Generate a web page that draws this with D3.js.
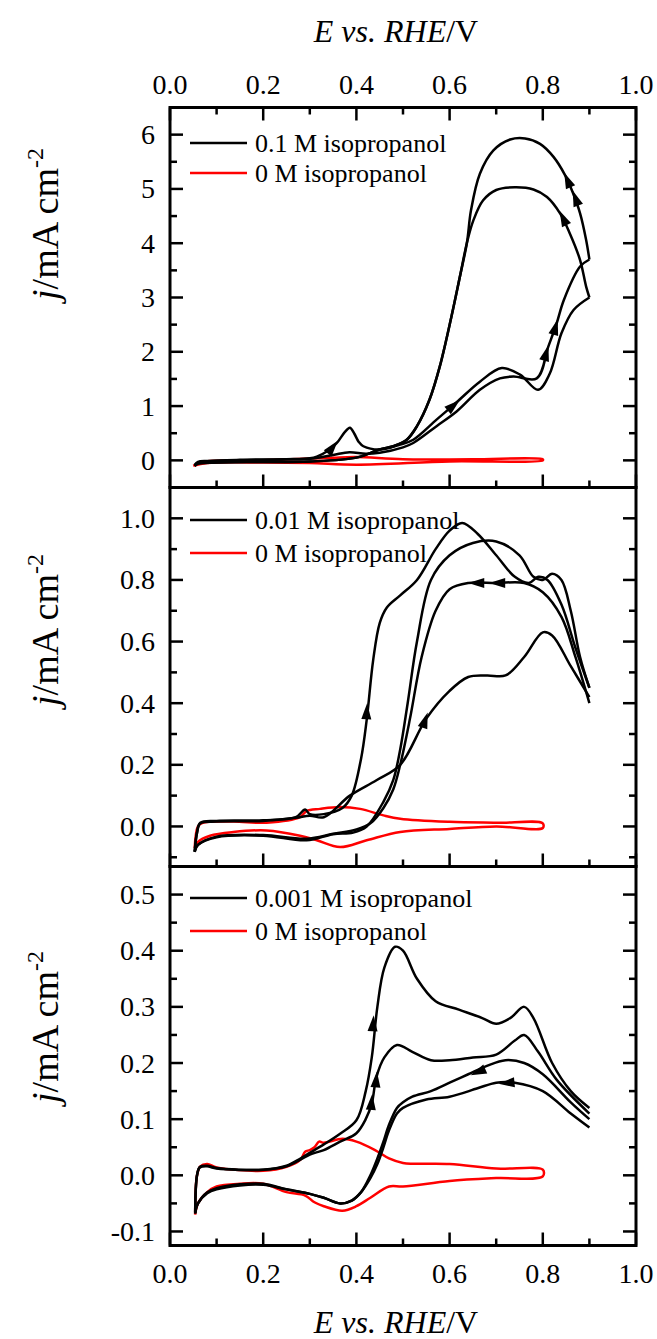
<!DOCTYPE html>
<html><head><meta charset="utf-8">
<script src="https://cdn.jsdelivr.net/npm/d3@7/dist/d3.min.js"></script>
<style>
html,body{margin:0;padding:0;background:#fff;}
svg{display:block;font-family:"Liberation Serif","Times New Roman",serif;}
</style></head>
<body>
<svg id="chart" width="657" height="1339"></svg>
<script>
// ---------- DATA ----------
const xTicks = [0.0, 0.2, 0.4, 0.6, 0.8, 1.0];
const xMinor = [0.1, 0.3, 0.5, 0.7, 0.9];

// Panel 1: 0.1 M isopropanol
const p1Ticks = [0, 1, 2, 3, 4, 5, 6];
const p1Minor = [0.5, 1.5, 2.5, 3.5, 4.5, 5.5];
const p1FwdA = [[0.053,-0.1],[0.06,-0.04],[0.08,-0.02],[0.15,0.0],[0.25,0.02],[0.3,0.04],[0.315,0.07],[0.34,0.18],[0.358,0.32],[0.375,0.52],[0.386,0.6],[0.395,0.5],[0.405,0.34],[0.415,0.26],[0.45,0.2],[0.494,0.29],[0.522,0.38],[0.572,0.75],[0.615,1.07],[0.665,1.45],[0.712,1.70],[0.751,1.58],[0.79,1.30],[0.815,1.6],[0.84,2.34],[0.866,2.77],[0.9,3.0]];
const p1FwdB = [[0.053,-0.08],[0.06,-0.03],[0.08,-0.01],[0.15,0.01],[0.25,0.02],[0.3,0.03],[0.35,0.1],[0.385,0.15],[0.42,0.12],[0.45,0.14],[0.5,0.24],[0.522,0.32],[0.572,0.63],[0.615,0.9],[0.665,1.30],[0.708,1.51],[0.737,1.545],[0.787,1.51],[0.812,2.10],[0.83,2.53],[0.845,2.95],[0.88,3.57],[0.9,3.70]];
const p1RevA = [[0.9,3.0],[0.893,3.2],[0.88,3.69],[0.858,4.18],[0.837,4.55],[0.809,4.85],[0.78,4.99],[0.74,5.03],[0.70,4.98],[0.672,4.79],[0.651,4.42],[0.637,4.0],[0.622,3.38],[0.604,2.65],[0.579,1.73],[0.557,1.12],[0.53,0.63],[0.508,0.38],[0.479,0.26],[0.45,0.2],[0.4,0.05],[0.3,-0.02],[0.2,-0.03],[0.1,-0.04],[0.06,-0.06],[0.053,-0.1]];
const p1RevB = [[0.9,3.7],[0.893,4.06],[0.88,4.55],[0.865,4.92],[0.848,5.25],[0.823,5.59],[0.794,5.83],[0.762,5.93],[0.73,5.91],[0.694,5.71],[0.665,5.28],[0.646,4.61],[0.637,4.0],[0.622,3.38],[0.604,2.65],[0.579,1.73],[0.557,1.12],[0.53,0.63],[0.508,0.38],[0.479,0.26],[0.45,0.2],[0.4,0.05],[0.3,-0.02],[0.2,-0.03],[0.1,-0.04],[0.06,-0.06],[0.053,-0.1]];
const p1Blank = [[0.05,-0.1],[0.07,-0.03],[0.2,0.0],[0.35,0.05],[0.4,0.06],[0.5,0.02],[0.65,0.02],[0.8,0.02],[0.8,0.0],[0.6,-0.02],[0.4,-0.08],[0.3,-0.05],[0.2,-0.04],[0.08,-0.05],[0.05,-0.1]];
const p1Arrows = [[0.345,0.2,0.36,0.36],[0.6,0.95,0.622,1.11],[0.8,1.75,0.812,2.12],[0.822,2.3,0.832,2.6],[0.85,4.35,0.836,4.6],[0.875,4.72,0.864,4.97],[0.858,5.06,0.846,5.3]];

// Panel 2: 0.01 M isopropanol
const p2Ticks = [0.0, 0.2, 0.4, 0.6, 0.8, 1.0];
const p2Minor = [-0.1, 0.1, 0.3, 0.5, 0.7, 0.9];
const p2Fwd1 = [[0.053,-0.083],[0.058,-0.02],[0.065,0.012],[0.1,0.018],[0.2,0.02],[0.27,0.03],[0.29,0.055],[0.3,0.04],[0.33,0.04],[0.37,0.06],[0.39,0.1],[0.41,0.22],[0.422,0.345],[0.436,0.54],[0.45,0.66],[0.465,0.71],[0.494,0.75],[0.53,0.8],[0.57,0.9],[0.6,0.96],[0.627,0.985],[0.66,0.95],[0.7,0.88],[0.74,0.81],[0.77,0.79],[0.79,0.81],[0.81,0.8],[0.84,0.72],[0.87,0.58],[0.9,0.45]];
const p2Fwd2 = [[0.053,-0.08],[0.058,-0.02],[0.065,0.01],[0.1,0.016],[0.2,0.018],[0.27,0.028],[0.3,0.035],[0.33,0.03],[0.386,0.1],[0.443,0.15],[0.494,0.2],[0.55,0.35],[0.6,0.44],[0.64,0.485],[0.68,0.49],[0.72,0.49],[0.76,0.55],[0.8,0.63],[0.82,0.62],[0.86,0.52],[0.9,0.42]];
const p2Rev1 = [[0.9,0.45],[0.88,0.55],[0.86,0.7],[0.84,0.8],[0.82,0.82],[0.8,0.8],[0.78,0.81],[0.75,0.88],[0.7,0.925],[0.65,0.92],[0.6,0.88],[0.56,0.8],[0.53,0.6],[0.51,0.4],[0.494,0.25],[0.479,0.15],[0.458,0.08],[0.422,0.0],[0.393,-0.02],[0.35,-0.025],[0.293,-0.045],[0.2,-0.03],[0.1,-0.035],[0.06,-0.06],[0.053,-0.083]];
const p2Rev2 = [[0.9,0.40],[0.87,0.55],[0.84,0.68],[0.8,0.76],[0.76,0.79],[0.7,0.79],[0.64,0.79],[0.6,0.77],[0.57,0.7],[0.54,0.55],[0.515,0.35],[0.494,0.2],[0.479,0.12],[0.458,0.06],[0.43,0.01],[0.4,-0.01],[0.35,-0.024],[0.293,-0.04],[0.2,-0.028],[0.1,-0.033],[0.06,-0.06],[0.053,-0.08]];
const p2Blank = [[0.053,-0.07],[0.06,0.0],[0.07,0.012],[0.136,0.016],[0.207,0.012],[0.279,0.03],[0.293,0.05],[0.322,0.057],[0.365,0.063],[0.408,0.057],[0.458,0.036],[0.494,0.025],[0.6,0.015],[0.7,0.012],[0.8,0.01],[0.8,-0.005],[0.7,0.0],[0.6,-0.008],[0.494,-0.018],[0.422,-0.045],[0.365,-0.067],[0.315,-0.045],[0.279,-0.03],[0.207,-0.013],[0.136,-0.018],[0.086,-0.03],[0.06,-0.05],[0.053,-0.07]];
const p2Arrows = [[0.418,0.25,0.423,0.4],[0.535,0.29,0.553,0.37],[0.665,0.79,0.64,0.79],[0.71,0.79,0.685,0.79]];

// Panel 3: 0.001 M isopropanol
const p3Ticks = [-0.1, 0.0, 0.1, 0.2, 0.3, 0.4, 0.5];
const p3Minor = [-0.05, 0.05, 0.15, 0.25, 0.35, 0.45];
const p3Fwd1 = [[0.054,-0.068],[0.058,0.0],[0.064,0.015],[0.08,0.017],[0.1,0.013],[0.2,0.01],[0.25,0.017],[0.28,0.03],[0.3,0.04],[0.33,0.055],[0.365,0.074],[0.40,0.098],[0.42,0.15],[0.433,0.21],[0.445,0.3],[0.46,0.37],[0.483,0.407],[0.5,0.4],[0.53,0.35],[0.57,0.31],[0.62,0.295],[0.67,0.28],[0.7,0.27],[0.73,0.28],[0.76,0.3],[0.78,0.28],[0.82,0.2],[0.86,0.15],[0.9,0.12]];
const p3Fwd2 = [[0.054,-0.066],[0.058,0.0],[0.064,0.014],[0.08,0.016],[0.1,0.012],[0.2,0.01],[0.25,0.016],[0.28,0.028],[0.3,0.037],[0.33,0.045],[0.365,0.06],[0.4,0.075],[0.42,0.1],[0.433,0.128],[0.443,0.175],[0.46,0.21],[0.487,0.232],[0.52,0.22],[0.56,0.205],[0.6,0.205],[0.65,0.21],[0.7,0.215],[0.74,0.24],[0.76,0.25],[0.79,0.22],[0.83,0.17],[0.9,0.11]];
const p3Rev1 = [[0.9,0.1],[0.86,0.13],[0.8,0.18],[0.76,0.2],[0.72,0.205],[0.68,0.195],[0.64,0.18],[0.6,0.165],[0.56,0.15],[0.52,0.14],[0.5,0.13],[0.487,0.12],[0.47,0.09],[0.458,0.06],[0.445,0.03],[0.43,0.0],[0.41,-0.03],[0.39,-0.045],[0.365,-0.05],[0.33,-0.04],[0.3,-0.033],[0.25,-0.025],[0.2,-0.015],[0.15,-0.016],[0.1,-0.023],[0.08,-0.03],[0.06,-0.05],[0.054,-0.068]];
const p3Rev2 = [[0.9,0.085],[0.86,0.11],[0.8,0.15],[0.74,0.165],[0.7,0.165],[0.66,0.155],[0.6,0.14],[0.55,0.135],[0.5,0.12],[0.487,0.11],[0.47,0.08],[0.458,0.05],[0.445,0.02],[0.43,-0.005],[0.41,-0.03],[0.39,-0.045],[0.365,-0.05],[0.33,-0.04],[0.3,-0.033],[0.25,-0.025],[0.2,-0.017],[0.15,-0.018],[0.1,-0.025],[0.08,-0.032],[0.06,-0.05],[0.054,-0.066]];
const p3Blank = [[0.054,-0.07],[0.058,0.0],[0.065,0.016],[0.08,0.02],[0.1,0.014],[0.2,0.008],[0.25,0.015],[0.28,0.028],[0.29,0.042],[0.3,0.045],[0.31,0.05],[0.32,0.06],[0.33,0.058],[0.37,0.065],[0.4,0.06],[0.44,0.045],[0.47,0.03],[0.5,0.022],[0.6,0.02],[0.7,0.012],[0.8,0.01],[0.8,-0.002],[0.7,-0.005],[0.6,-0.01],[0.5,-0.02],[0.47,-0.02],[0.43,-0.04],[0.4,-0.055],[0.37,-0.063],[0.33,-0.055],[0.31,-0.048],[0.29,-0.036],[0.25,-0.03],[0.2,-0.015],[0.15,-0.015],[0.1,-0.02],[0.08,-0.03],[0.06,-0.05],[0.054,-0.07]];
const p3Arrows = [[0.43,0.2,0.437,0.285],[0.438,0.13,0.444,0.185],[0.428,0.09,0.434,0.145],[0.67,0.187,0.645,0.178],[0.73,0.165,0.705,0.163]];

const legendLabels = ["0.1 M isopropanol", "0.01 M isopropanol", "0.001 M isopropanol"];
const blankLabel = "0 M isopropanol";

// ---------- LAYOUT ----------
const X0 = 170, X1 = 636;
const panelEdges = [107.5, 487.5, 866.5, 1245.5];
const yLabelCenters = [224, 630, 1027];
const legendY = [[143, 173], [520, 553], [898, 931]];

const panels = [
  {domain:[-0.5, 6.5], ticks:p1Ticks, minor:p1Minor, fmt:d3.format("d"), black:[p1FwdA,p1FwdB,p1RevA,p1RevB], red:[p1Blank], arrows:p1Arrows},
  {domain:[-0.13, 1.1], ticks:p2Ticks, minor:p2Minor, fmt:d3.format(".1f"), black:[p2Fwd1,p2Fwd2,p2Rev1,p2Rev2], red:[p2Blank], arrows:p2Arrows},
  {domain:[-0.125, 0.55], ticks:p3Ticks, minor:p3Minor, fmt:(d)=>d3.format(".1f")(d).replace("−","-"), black:[p3Fwd1,p3Fwd2,p3Rev1,p3Rev2], red:[p3Blank], arrows:p3Arrows}
];

const svg = d3.select("#chart");
const x = d3.scaleLinear().domain([0, 1]).range([X0, X1]);
const FS = 28, LFS = 26;
const MAJ = 13, MIN = 7;

panels.forEach((p, i) => {
  const top = panelEdges[i], bot = panelEdges[i+1];
  const y = d3.scaleLinear().domain(p.domain).range([bot, top]);
  const g = svg.append("g");

  const line = d3.line().x(d => x(d[0])).y(d => y(d[1])).curve(d3.curveCatmullRom.alpha(0.5));

  p.red.forEach(c => g.append("path").attr("d", line(c)).attr("fill","none").attr("stroke","#ff0000").attr("stroke-width",2.5).attr("stroke-linejoin","round"));
  p.black.forEach(c => g.append("path").attr("d", line(c)).attr("fill","none").attr("stroke","#000").attr("stroke-width",2.5).attr("stroke-linejoin","round"));

  p.arrows.forEach(a => {
    const x1 = x(a[0]), y1 = y(a[1]), x2 = x(a[2]), y2 = y(a[3]);
    const ang = Math.atan2(y2 - y1, x2 - x1) * 180 / Math.PI;
    g.append("path").attr("d", "M0,0 L-16,-5 L-16,5 Z").attr("fill","#000")
      .attr("transform", `translate(${x2},${y2}) rotate(${ang})`);
  });

  const ax = svg.append("g").attr("stroke","#000").attr("stroke-width",2.5);
  p.ticks.forEach(t => {
    ax.append("line").attr("x1",X0).attr("x2",X0+MAJ).attr("y1",y(t)).attr("y2",y(t));
    ax.append("line").attr("x1",X1).attr("x2",X1-MAJ).attr("y1",y(t)).attr("y2",y(t));
  });
  p.minor.forEach(t => {
    ax.append("line").attr("x1",X0).attr("x2",X0+MIN).attr("y1",y(t)).attr("y2",y(t));
    ax.append("line").attr("x1",X1).attr("x2",X1-MIN).attr("y1",y(t)).attr("y2",y(t));
  });
  xTicks.forEach(t => ax.append("line").attr("x1",x(t)).attr("x2",x(t)).attr("y1",bot).attr("y2",bot-MAJ));
  xMinor.forEach(t => ax.append("line").attr("x1",x(t)).attr("x2",x(t)).attr("y1",bot).attr("y2",bot-MIN));
  if (i === 0) {
    xTicks.forEach(t => ax.append("line").attr("x1",x(t)).attr("x2",x(t)).attr("y1",top).attr("y2",top+MAJ));
    xMinor.forEach(t => ax.append("line").attr("x1",x(t)).attr("x2",x(t)).attr("y1",top).attr("y2",top+MIN));
  }

  p.ticks.forEach(t => {
    svg.append("text").attr("x", X0 - 15).attr("y", y(t)).attr("dy","0.34em")
      .attr("text-anchor","end").attr("font-size",FS).attr("fill","#000").text(p.fmt(t));
  });

  svg.append("rect").attr("x",X0).attr("y",top).attr("width",X1-X0).attr("height",bot-top)
    .attr("fill","none").attr("stroke","#000").attr("stroke-width",3);

  const yl = svg.append("text").attr("transform",`translate(58,${yLabelCenters[i]}) rotate(-90)`)
    .attr("text-anchor","middle").attr("font-size",38).attr("fill","#000");
  yl.append("tspan").attr("font-style","italic").text("j");
  yl.append("tspan").text("/mA cm");
  yl.append("tspan").attr("font-size",24).attr("dy",-15).text("-2");

  const lg = svg.append("g");
  const ly = legendY[i];
  lg.append("line").attr("x1",190).attr("x2",247).attr("y1",ly[0]).attr("y2",ly[0]).attr("stroke","#000").attr("stroke-width",2.5);
  lg.append("line").attr("x1",190).attr("x2",247).attr("y1",ly[1]).attr("y2",ly[1]).attr("stroke","#ff0000").attr("stroke-width",2.5);
  lg.append("text").attr("x",255).attr("y",ly[0]).attr("dy","0.34em").attr("font-size",LFS).text(legendLabels[i]);
  lg.append("text").attr("x",255).attr("y",ly[1]).attr("dy","0.34em").attr("font-size",LFS).text(blankLabel);
});

xTicks.forEach(t => {
  svg.append("text").attr("x",x(t)).attr("y",94).attr("text-anchor","middle").attr("font-size",FS).text(d3.format(".1f")(t));
  svg.append("text").attr("x",x(t)).attr("y",1283).attr("text-anchor","middle").attr("font-size",FS).text(d3.format(".1f")(t));
});

function xTitle(yPos) {
  const t = svg.append("text").attr("x",396).attr("y",yPos).attr("text-anchor","middle").attr("font-size",32);
  t.append("tspan").attr("font-style","italic").text("E vs. RHE");
  t.append("tspan").text("/V");
}
xTitle(42);
xTitle(1333);
</script>
</body></html>
